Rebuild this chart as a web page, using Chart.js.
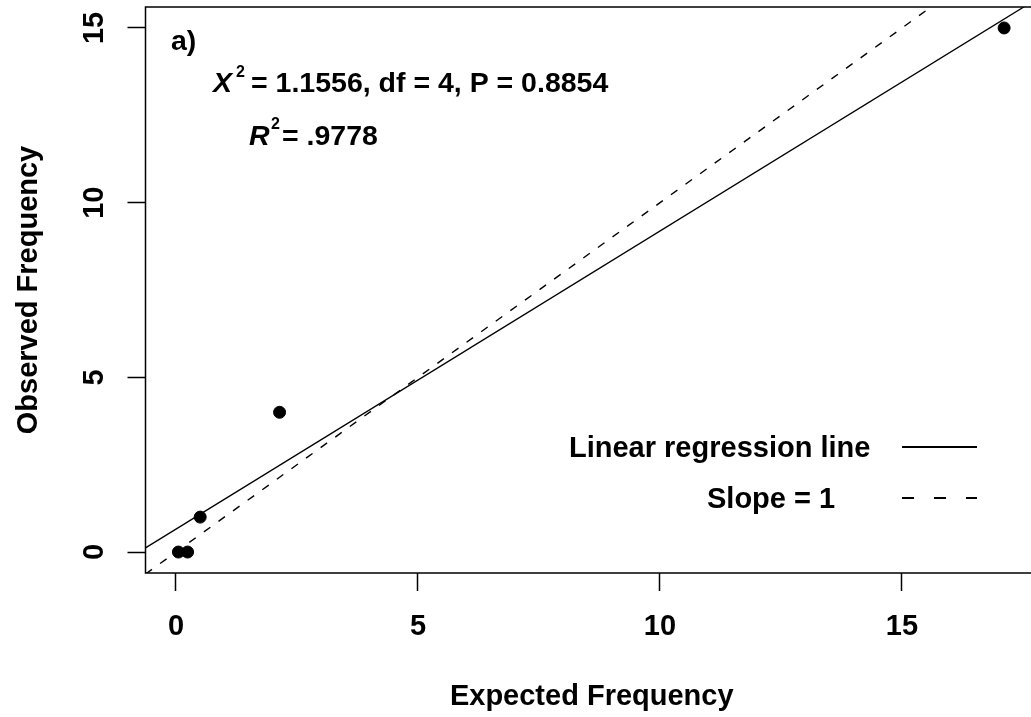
<!DOCTYPE html>
<html>
<head>
<meta charset="utf-8">
<script src="https://cdn.jsdelivr.net/npm/chart.js@4"></script>
<style>
  html, body { margin: 0; padding: 0; background: #fff; overflow: hidden; }
  #wrap { width: 1045px; height: 717px; }
</style>
</head>
<body>
<div id="wrap"><canvas id="fitChart" width="1045" height="717"></canvas></div>
<script>
// observed vs expected cell frequencies
var expected = [0.05, 0.24, 0.5, 2.14, 17.11];
var observed = [0, 0, 1, 4, 15];

// fitted regression line, two ends
var regX = [-0.63, 17.55];
var regY = [0.12, 15.63];

// slope = 1 reference line
var refX = [-0.63, 15.6];
var refY = [-0.63, 15.6];

var xTicks = [0, 5, 10, 15];
var yTicks = [0, 5, 10, 15];

var statsText = '= 1.1556, df = 4, P = 0.8854';
var r2Text = '= .9778';
var legendLabels = ['Linear regression line', 'Slope = 1'];

var FONT = '"Liberation Sans", Arial, sans-serif';

function toPoints(xs, ys) {
    return xs.map(function (x, i) { return { x: x, y: ys[i] }; });
}

var boxAndText = {
    id: 'boxAndText',
    afterDraw: function (chart) {
        var ctx = chart.ctx;
        var a = chart.chartArea;
        var ys = chart.scales.y;
        ctx.save();

        // plot frame
        ctx.strokeStyle = '#000';
        ctx.lineWidth = 1.5;
        ctx.strokeRect(a.left, a.top, a.right - a.left, a.bottom - a.top);

        // y tick labels, written along the axis like R does
        ctx.fillStyle = '#000';
        ctx.font = 'bold 29px ' + FONT;
        ctx.textAlign = 'center';
        ctx.textBaseline = 'alphabetic';
        yTicks.forEach(function (v) {
            var py = ys.getPixelForValue(v);
            ctx.save();
            ctx.translate(103, py);
            ctx.rotate(-Math.PI / 2);
            ctx.fillText(String(v), 0, 0);
            ctx.restore();
        });

        // panel letter and statistics
        ctx.textAlign = 'left';
        ctx.font = 'bold 28.5px ' + FONT;
        ctx.fillText('a)', 171, 50);

        ctx.font = 'italic bold 28.5px ' + FONT;
        ctx.fillText('X', 213, 92);
        ctx.font = 'bold 16px ' + FONT;
        ctx.fillText('2', 236, 77);
        ctx.font = 'bold 28.5px ' + FONT;
        ctx.fillText(statsText, 251, 92);

        ctx.font = 'italic bold 28.5px ' + FONT;
        ctx.fillText('R', 249, 145);
        ctx.font = 'bold 16px ' + FONT;
        ctx.fillText('2', 271, 129);
        ctx.font = 'bold 28.5px ' + FONT;
        ctx.fillText(r2Text, 282, 145);

        // legend, no frame
        ctx.font = 'bold 29px ' + FONT;
        ctx.fillText(legendLabels[0], 569, 457);
        ctx.fillText(legendLabels[1], 707, 508);
        ctx.lineWidth = 1.8;
        ctx.beginPath();
        ctx.moveTo(902, 447);
        ctx.lineTo(977, 447);
        ctx.stroke();
        ctx.setLineDash([12, 20]);
        ctx.beginPath();
        ctx.moveTo(902, 498);
        ctx.lineTo(977, 498);
        ctx.stroke();
        ctx.restore();
    }
};

var ctx = document.getElementById('fitChart').getContext('2d');
var chart = new Chart(ctx, {
    type: 'scatter',
    data: {
        datasets: [
            {
                label: legendLabels[0],
                data: toPoints(regX, regY),
                showLine: true,
                borderColor: '#000',
                borderWidth: 1.3,
                pointRadius: 0,
                order: 2
            },
            {
                label: legendLabels[1],
                data: toPoints(refX, refY),
                showLine: true,
                borderColor: '#000',
                borderWidth: 1.4,
                borderDash: [8, 10],
                pointRadius: 0,
                order: 3
            },
            {
                label: 'Observed',
                data: toPoints(expected, observed),
                backgroundColor: '#000',
                borderColor: '#000',
                pointRadius: 6,
                pointHoverRadius: 6,
                order: 1
            }
        ]
    },
    options: {
        responsive: false,
        animation: false,
        layout: { padding: { top: 7, right: 7, left: 0, bottom: 0 } },
        plugins: {
            legend: { display: false },
            tooltip: { enabled: false }
        },
        scales: {
            x: {
                type: 'linear',
                min: -0.63,
                max: 17.81,
                afterBuildTicks: function (s) {
                    s.ticks = xTicks.map(function (v) { return { value: v }; });
                },
                afterFit: function (s) { s.height = 144; },
                border: { display: false },
                grid: {
                    drawOnChartArea: false,
                    drawTicks: true,
                    tickLength: 18,
                    tickWidth: 1.5,
                    color: '#000'
                },
                ticks: {
                    color: '#000',
                    padding: 19,
                    maxRotation: 0,
                    font: { family: FONT, size: 29, weight: 'bold' }
                },
                title: {
                    display: true,
                    text: 'Expected Frequency',
                    color: '#000',
                    padding: { top: 0, bottom: 3 },
                    font: { family: FONT, size: 29, weight: 'bold' }
                }
            },
            y: {
                type: 'linear',
                min: -0.6,
                max: 15.6,
                afterBuildTicks: function (s) {
                    s.ticks = yTicks.map(function (v) { return { value: v }; });
                },
                afterFit: function (s) { s.width = 145.5; },
                border: { display: false },
                grid: {
                    drawOnChartArea: false,
                    drawTicks: true,
                    tickLength: 18,
                    tickWidth: 1.5,
                    color: '#000'
                },
                ticks: {
                    display: false
                },
                title: {
                    display: true,
                    text: 'Observed Frequency',
                    color: '#000',
                    padding: { top: 12, bottom: 0 },
                    font: { family: FONT, size: 29, weight: 'bold' }
                }
            }
        }
    },
    plugins: [boxAndText]
});
</script>
</body>
</html>
